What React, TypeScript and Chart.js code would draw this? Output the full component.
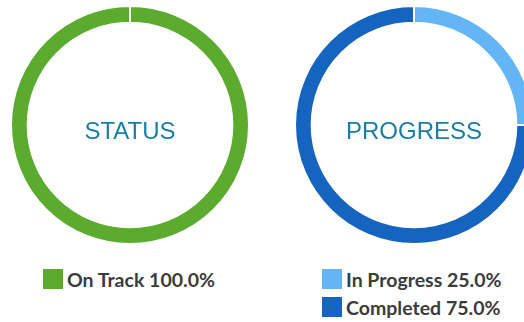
import React, { useEffect, useRef } from "react";
import { Chart, registerables } from "chart.js";

Chart.register(...registerables);

const statusLabels = ["On Track"];
const statusValues = [100];
const statusColors = ["#5aab2e"];

const progressLabels = ["In Progress", "Completed"];
const progressValues = [25, 75];
const progressColors = ["#64b5f6", "#1565c0"];

const centerTextPlugin = {
  id: "centerText",
  afterDraw(chart: any, _args: any, opts: any) {
    const meta = chart.getDatasetMeta(0);
    if (!meta || !meta.data.length) return;
    const arc = meta.data[0];
    const ctx = chart.ctx;
    ctx.save();
    ctx.font = "24px 'Liberation Sans', Arial, sans-serif";
    ctx.fillStyle = "#1a7fa7";
    ctx.textAlign = "center";
    ctx.textBaseline = "alphabetic";
    ctx.fillText(opts.text, arc.x, arc.y + 14);
    ctx.restore();
  },
};

function pct(values: number[], i: number) {
  const total = values.reduce((a, b) => a + b, 0);
  return ((values[i] / total) * 100).toFixed(1) + "%";
}

function Donut(props: {
  labels: string[];
  values: number[];
  colors: string[];
  title: string;
  left: number;
  legendLeft: number;
}) {
  const ref = useRef<HTMLCanvasElement>(null);
  useEffect(() => {
    if (!ref.current) return;
    const chart = new Chart(ref.current, {
      type: "doughnut",
      data: {
        labels: props.labels,
        datasets: [
          {
            data: props.values,
            backgroundColor: props.colors,
            borderColor: "#ffffff",
            borderWidth: 2,
          },
        ],
      },
      options: {
        animation: false,
        responsive: false,
        maintainAspectRatio: false,
        cutout: "86%",
        layout: { padding: 0 },
        plugins: {
          legend: { display: false },
          tooltip: { enabled: false },
          centerText: { text: props.title },
        } as any,
      },
      plugins: [centerTextPlugin],
    });
    return () => chart.destroy();
  }, []);
  return (
    <>
      <div style={{ position: "absolute", left: props.left, top: 5, width: 240, height: 240 }}>
        <canvas ref={ref} width={240} height={240} style={{ width: 240, height: 240 }} />
      </div>
      <div style={{ position: "absolute", left: props.legendLeft, top: 269 }}>
        {props.labels.map((l, i) => (
          <div
            key={l}
            style={{ display: "flex", alignItems: "center", height: 20, marginBottom: 8 }}
          >
            <div style={{ width: 20, height: 20, background: props.colors[i], marginRight: 4, flex: "none" }} />
            <span
              style={{
                fontFamily: "Lato, 'Noto Sans', sans-serif",
                fontWeight: 700,
                fontSize: 19.5,
                color: "#3c3c3c",
                lineHeight: "20px",
                whiteSpace: "nowrap",
                position: "relative",
                top: 1,
              }}
            >
              {l} {pct(props.values, i)}
            </span>
          </div>
        ))}
      </div>
    </>
  );
}

export default function App() {
  return (
    <div
      style={{
        position: "fixed",
        left: 0,
        top: 0,
        width: 524,
        height: 322,
        overflow: "hidden",
        background: "#fff",
      }}
    >
      <Donut labels={statusLabels} values={statusValues} colors={statusColors} title="STATUS" left={10} legendLeft={43} />
      <Donut labels={progressLabels} values={progressValues} colors={progressColors} title="PROGRESS" left={294} legendLeft={322} />
    </div>
  );
}
